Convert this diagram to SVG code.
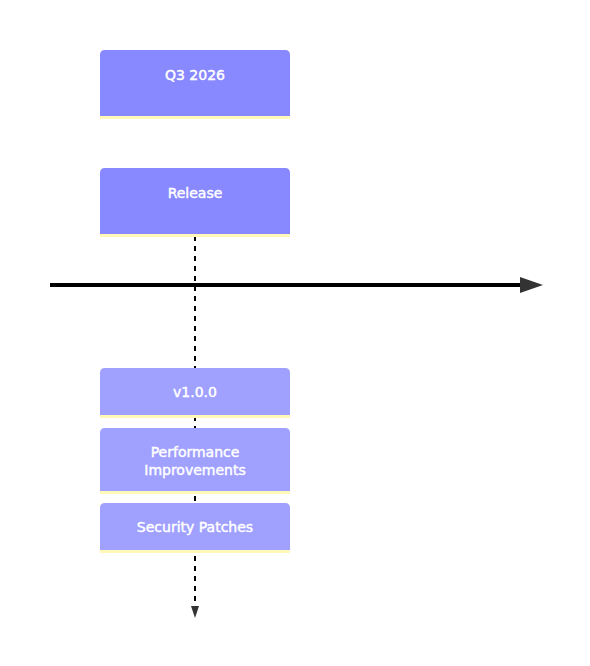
<svg xmlns="http://www.w3.org/2000/svg" width="590" height="666" viewBox="0 0 590 666">
<style>
.sec{fill:#8888ff}
.ev{fill:#a0a0ff}
.ul{stroke:#fff8b8;stroke-width:3}
.t{font-family:"DejaVu Sans",Verdana,sans-serif;font-size:14px;fill:#ffffff;stroke:#ffffff;stroke-width:0.45;text-anchor:middle}
.dash{stroke:#000;stroke-width:2;stroke-dasharray:5 5;fill:none}
</style>
<rect width="590" height="666" fill="#ffffff"/>
<g id="connectors">
<line class="dash" x1="195" y1="236" x2="195" y2="607"/>
<path d="M191,606 L199,606 L195,618 Z" fill="#333"/>
<line x1="50" y1="285" x2="522" y2="285" stroke="#000" stroke-width="4"/>
<path d="M520,277 L543,285 L520,293 Z" fill="#333"/>
</g>
<g id="q3-2026">
<path class="sec" d="M100,117 V55 Q100,50 105,50 H285 Q290,50 290,55 V117 Z"/>
<line class="ul" x1="100" y1="117.5" x2="290" y2="117.5"/>
<text class="t" x="195" y="80">Q3 2026</text>
</g>
<g id="release">
<path class="sec" d="M100,235 V173 Q100,168 105,168 H285 Q290,168 290,173 V235 Z"/>
<line class="ul" x1="100" y1="235.5" x2="290" y2="235.5"/>
<text class="t" x="195" y="198">Release</text>
</g>
<g id="v100">
<path class="ev" d="M100,416 V373 Q100,368 105,368 H285 Q290,368 290,373 V416 Z"/>
<line class="ul" x1="100" y1="416.5" x2="290" y2="416.5"/>
<text class="t" x="195" y="397">v1.0.0</text>
</g>
<g id="performance">
<path class="ev" d="M100,492 V433 Q100,428 105,428 H285 Q290,428 290,433 V492 Z"/>
<line class="ul" x1="100" y1="492.5" x2="290" y2="492.5"/>
<text class="t" x="195" y="457">Performance</text>
<text class="t" x="195" y="475">Improvements</text>
</g>
<g id="security">
<path class="ev" d="M100,551 V508 Q100,503 105,503 H285 Q290,503 290,508 V551 Z"/>
<line class="ul" x1="100" y1="551.5" x2="290" y2="551.5"/>
<text class="t" x="195" y="532">Security Patches</text>
</g>
</svg>
